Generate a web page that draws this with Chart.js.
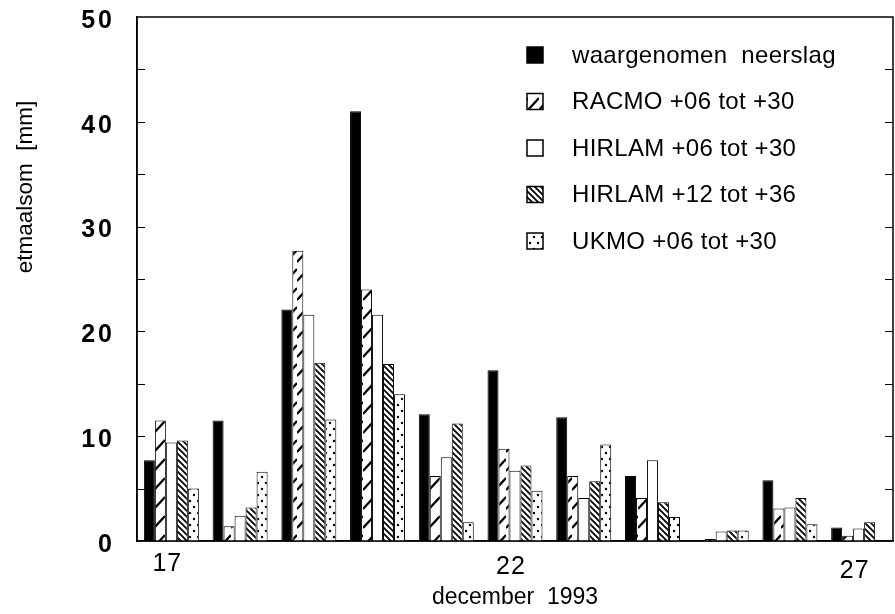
<!DOCTYPE html>
<html>
<head>
<meta charset="UTF-8">
<title>etmaalsom december 1993</title>
<script src="https://cdn.jsdelivr.net/npm/chart.js@4.4.1/dist/chart.umd.min.js"></script>
<style>
    body { margin: 0; background: #fff; }
    .chart-box { position: relative; width: 895px; height: 614px; }
</style>
</head>
<body>

<div class="chart-box"><canvas id="chartCanvas"></canvas></div>

<script>
    // dagen in december 1993
    var days = ['17', '18', '19', '20', '21', '22', '23', '24', '25', '26', '27'];
    var shownDays = ['17', '22', '27'];

    // etmaalsom [mm] per dag
    var waargenomen = [7.7, 11.5, 22.1, 41.0, 12.1, 16.3, 11.8, 6.2, 0.1, 5.8, 1.3];
    var racmo0630   = [11.5, 1.4, 27.7, 24.0, 6.2, 8.8, 6.2, 4.1, 0.2, 3.1, 0.5];
    var hirlam0630  = [9.4, 2.4, 21.6, 21.6, 8.0, 6.7, 4.1, 7.7, 0.9, 3.2, 1.2];
    var hirlam1236  = [9.6, 3.2, 17.0, 16.9, 11.2, 7.2, 5.7, 3.7, 1.0, 4.1, 1.8];
    var ukmo0630    = [5.0, 6.6, 11.6, 14.0, 1.8, 4.8, 9.2, 2.3, 1.0, 1.6, 0];

    var seriesNames = ['waargenomen  neerslag', 'RACMO +06 tot +30', 'HIRLAM +06 tot +30',
                       'HIRLAM +12 tot +36', 'UKMO +06 tot +30'];

    var yTicks = [0, 10, 20, 30, 40, 50];
    var yTitle = 'etmaalsom  [mm]';
    var xTitle = 'december  1993';

    var FONT = 'Liberation Sans';

    //
    // fill patterns (black/white print look)
    //
    function makePattern(kind) {
        var c = document.createElement('canvas');
        var g = c.getContext('2d');
        if (kind == 'slash') {
            c.width = 11; c.height = 19;
        } else if (kind == 'backslash') {
            c.width = 6; c.height = 6;
        } else {
            c.width = 8; c.height = 12;
        }
        g.fillStyle = '#fff';
        g.fillRect(0, 0, c.width, c.height);
        g.strokeStyle = '#000';
        g.fillStyle = '#000';
        if (kind == 'slash') {
            g.lineWidth = 2.2;
            g.beginPath();
            g.moveTo(0, 15); g.lineTo(11, 3);
            g.stroke();
        } else if (kind == 'backslash') {
            g.lineWidth = 1.8;
            g.beginPath();
            g.moveTo(-3, -3); g.lineTo(9, 9);
            g.moveTo(-3, 3); g.lineTo(3, 9);
            g.moveTo(3, -3); g.lineTo(9, 3);
            g.stroke();
        } else {
            g.beginPath(); g.arc(2, 3, 1.2, 0, Math.PI * 2); g.fill();
            g.beginPath(); g.arc(6, 9, 1.2, 0, Math.PI * 2); g.fill();
        }
        return g.createPattern(c, 'repeat');
    }

    var fills = ['#000000', makePattern('slash'), '#ffffff', makePattern('backslash'), makePattern('dots')];
    var seriesData = [waargenomen, racmo0630, hirlam0630, hirlam1236, ukmo0630];

    var datasets = seriesData.map(function (d, i) {
        return {
            label: seriesNames[i],
            data: d,
            backgroundColor: fills[i],
            borderColor: '#000',
            borderWidth: 1,
            categoryPercentage: 0.8,
            barPercentage: 1.0
        };
    });

    //
    // frame, inward ticks, axis texts and legend
    //
    var framePlugin = {
        id: 'frame',
        afterDraw: function (chart) {
            var ctx = chart.ctx;
            var a = chart.chartArea;
            var y = chart.scales.y;
            var x = chart.scales.x;
            ctx.save();
            ctx.strokeStyle = '#000';
            ctx.lineWidth = 1.5;
            ctx.strokeRect(a.left, a.top, a.right - a.left, a.bottom - a.top);

            // inward ticks every 5 mm
            ctx.lineWidth = 1.2;
            ctx.beginPath();
            for (var v = 5; v < 50; v += 5) {
                var py = Math.round(y.getPixelForValue(v)) + 0.5;
                ctx.moveTo(a.left, py); ctx.lineTo(a.left + 8, py);
                ctx.moveTo(a.right, py); ctx.lineTo(a.right - 8, py);
            }
            ctx.stroke();
            ctx.restore();

            // y tick labels
            ctx.save();
            ctx.fillStyle = '#000';
            ctx.font = 'bold 25px "' + FONT + '"';
            ctx.letterSpacing = '3px';
            ctx.textAlign = 'right';
            ctx.textBaseline = 'middle';
            yTicks.forEach(function (t) {
                ctx.fillText(String(t), a.left - 22, y.getPixelForValue(t) + 4);
            });

            // x tick labels
            ctx.font = '25px "' + FONT + '"';
            ctx.letterSpacing = '1px';
            ctx.textAlign = 'center';
            days.forEach(function (d, i) {
                if (shownDays.indexOf(d) >= 0) {
                    ctx.fillText(d, x.getPixelForValue(i) - 4, a.bottom + 23 + i * 0.7);
                }
            });
            ctx.letterSpacing = '0px';

            // x title
            ctx.font = '23px "' + FONT + '"';
            ctx.fillText(xTitle, (a.left + a.right) / 2, 598);

            // y title
            ctx.font = '22.5px "' + FONT + '"';
            ctx.translate(26, 187);
            ctx.rotate(-Math.PI / 2);
            ctx.fillText(yTitle, 0, 0);
            ctx.restore();

            // legend inside the plot
            ctx.save();
            ctx.font = '24px "' + FONT + '"';
            ctx.letterSpacing = '0.3px';
            ctx.textAlign = 'left';
            ctx.textBaseline = 'middle';
            chart.data.datasets.forEach(function (ds, i) {
                var cy = 55 + i * 46.5;
                ctx.fillStyle = ds.backgroundColor;
                ctx.fillRect(527, cy - 8, 16, 16);
                ctx.strokeStyle = '#000';
                ctx.lineWidth = 1.5;
                ctx.strokeRect(527, cy - 8, 16, 16);
                ctx.fillStyle = '#000';
                ctx.fillText(ds.label, 572, cy + 1);
            });
            ctx.restore();
        }
    };

    var myChart = new Chart(document.getElementById('chartCanvas'), {
        type: 'bar',
        data: {
            labels: days,
            datasets: datasets
        },
        options: {
            responsive: true,
            maintainAspectRatio: false,
            animation: false,
            layout: {
                padding: { top: 17, right: 2, left: 0, bottom: 0 }
            },
            plugins: {
                legend: { display: false },
                tooltip: { enabled: false }
            },
            scales: {
                x: {
                    grid: { display: false, drawTicks: false },
                    border: { color: '#000', width: 1.5 },
                    ticks: { display: false },
                    afterFit: function (s) { s.height = 73; }
                },
                y: {
                    min: 0,
                    max: 50,
                    afterBuildTicks: function (s) {
                        s.ticks = yTicks.map(function (v) { return { value: v }; });
                    },
                    grid: { display: false, drawTicks: false },
                    border: { color: '#000', width: 1.5 },
                    ticks: { display: false },
                    afterFit: function (s) { s.width = 137; }
                }
            }
        },
        plugins: [framePlugin]
    });
</script>

</body>
</html>
